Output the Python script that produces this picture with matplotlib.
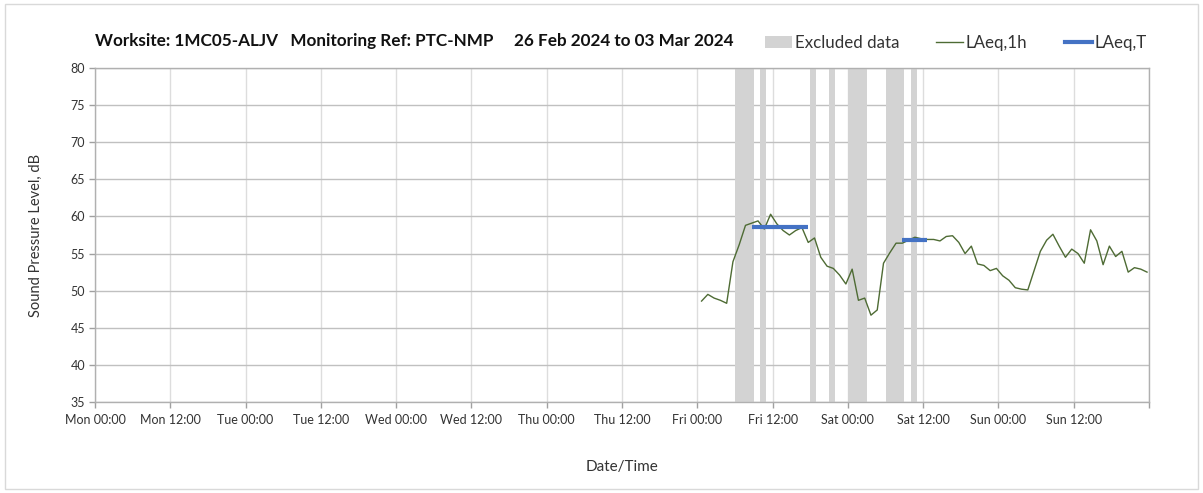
import numpy as np
import pandas as pd
import matplotlib
matplotlib.use("Agg")
import matplotlib.pyplot as plt
import matplotlib.dates as mdates
from matplotlib.lines import Line2D
from matplotlib.patches import Patch, Rectangle

plt.rcParams['font.family'] = ['Lato', 'DejaVu Sans']

# ---- data ----
title_text = "Worksite: 1MC05-ALJV   Monitoring Ref: PTC-NMP     26 Feb 2024 to 03 Mar 2024"
period_start = "2024-02-26 00:00"
period_end = "2024-03-04 00:00"

# hourly LAeq values, Fri 01 Mar 2024 00:00 .. Sun 03 Mar 2024 23:00
laeq_1h = [
    48.6, 49.5, 49.0, 48.7, 48.3, 53.9, 56.2, 58.8, 59.1, 59.4, 58.3, 60.3,
    59.0, 58.1, 57.5, 58.1, 58.5, 56.5, 57.1, 54.5, 53.3, 53.0, 52.1, 50.9,
    52.9, 48.7, 49.0, 46.7, 47.4, 53.7, 55.1, 56.4, 56.4, 56.8, 57.2, 57.0,
    56.9, 56.9, 56.7, 57.3, 57.4, 56.5, 55.0, 56.0, 53.6, 53.4, 52.7, 53.0,
    52.0, 51.4, 50.4, 50.2, 50.1, 52.7, 55.3, 56.8, 57.6, 56.0, 54.5, 55.6,
    55.0, 53.7, 58.2, 56.7, 53.5, 56.0, 54.6, 55.3, 52.5, 53.1, 52.9, 52.5,
]
laeq_1h_times = pd.date_range("2024-03-01 00:41", periods=len(laeq_1h), freq="h")

# LAeq,T periods
laeqT_start = ["2024-03-01 08:41", "2024-03-02 08:41"]
laeqT_end = ["2024-03-01 17:41", "2024-03-02 12:41"]
laeqT_value = [58.6, 56.8]

# excluded data periods
excluded_start = ["2024-03-01 06:00", "2024-03-01 10:00", "2024-03-01 18:00",
                  "2024-03-01 21:00", "2024-03-02 00:00", "2024-03-02 06:00",
                  "2024-03-02 10:00"]
excluded_end = ["2024-03-01 09:00", "2024-03-01 11:00", "2024-03-01 19:00",
                "2024-03-01 22:00", "2024-03-02 03:00", "2024-03-02 09:00",
                "2024-03-02 11:00"]

y_min, y_max, y_step = 35, 80, 5

# ---- figure ----
W, H = 1203, 493
fig = plt.figure(figsize=(W / 100, H / 100), dpi=100)
fig.patches.append(Rectangle((5 / W, 4 / H), 1 - 10 / W, 1 - 8 / H, transform=fig.transFigure,
                             fill=False, edgecolor="#d9d9d9", linewidth=1))
ax = fig.add_axes([95 / W, 1 - 402 / H, (1149 - 95) / W, (402 - 68) / H])

band_color = "#d3d3d3"
for s, e in zip(excluded_start, excluded_end):
    ax.axvspan(pd.Timestamp(s), pd.Timestamp(e), color=band_color, lw=0, zorder=1)

ax.plot(laeq_1h_times, laeq_1h, color="#4e6b34", lw=1.0, zorder=3)
for s, e, v in zip(laeqT_start, laeqT_end, laeqT_value):
    ax.plot([pd.Timestamp(s), pd.Timestamp(e)], [v, v], color="#4472c4", lw=3,
            solid_capstyle="butt", zorder=4)

ax.set_xlim(pd.Timestamp(period_start), pd.Timestamp(period_end))
ax.set_ylim(y_min, y_max)
ax.set_yticks(np.arange(y_min, y_max + 1, y_step))
ax.xaxis.set_major_locator(mdates.HourLocator(byhour=[0, 12]))
end_num = mdates.date2num(pd.Timestamp(period_end))
base_fmt = mdates.DateFormatter("%a %H:%M")
ax.xaxis.set_major_formatter(plt.FuncFormatter(
    lambda x, pos: "" if abs(x - end_num) < 1e-6 else base_fmt(x, pos)))

ax.grid(axis="y", color="#c0c0c0", lw=1, zorder=0)
ax.grid(axis="x", color="#dddddd", lw=1, zorder=0)
ax.set_axisbelow(True)
for sp in ax.spines.values():
    sp.set_color("#b0b0b0")
    sp.set_linewidth(1)
ax.tick_params(axis="both", which="major", length=4, width=1, color="#a0a0a0",
               labelsize=9, labelcolor="#333333")
ax.tick_params(axis="x", pad=5)
ax.tick_params(axis="y", pad=3)

ax.set_ylabel("Sound Pressure Level, dB", fontsize=10.5, color="#333333", labelpad=20)
ax.set_xlabel("Date/Time", fontsize=11, color="#333333", labelpad=24)

fig.text(95 / W, 1 - 41 / H, title_text, fontsize=12.3, fontweight="bold",
         ha="left", va="center", color="#111111")

handles = [Patch(facecolor=band_color, edgecolor="none"),
           Line2D([0], [0], color="#4e6b34", lw=1),
           Line2D([0], [0], color="#4472c4", lw=3)]
labels = ["Excluded data", "LAeq,1h", "LAeq,T"]
leg = fig.legend(handles, labels, loc="center right", bbox_to_anchor=(1162 / W, 1 - 43 / H),
                 ncol=3, frameon=False, fontsize=12.2, handlelength=1.6, handleheight=0.7,
                 handletextpad=0.15, columnspacing=2.2, labelcolor="#333333")

fig.savefig("out.png", dpi=100)
